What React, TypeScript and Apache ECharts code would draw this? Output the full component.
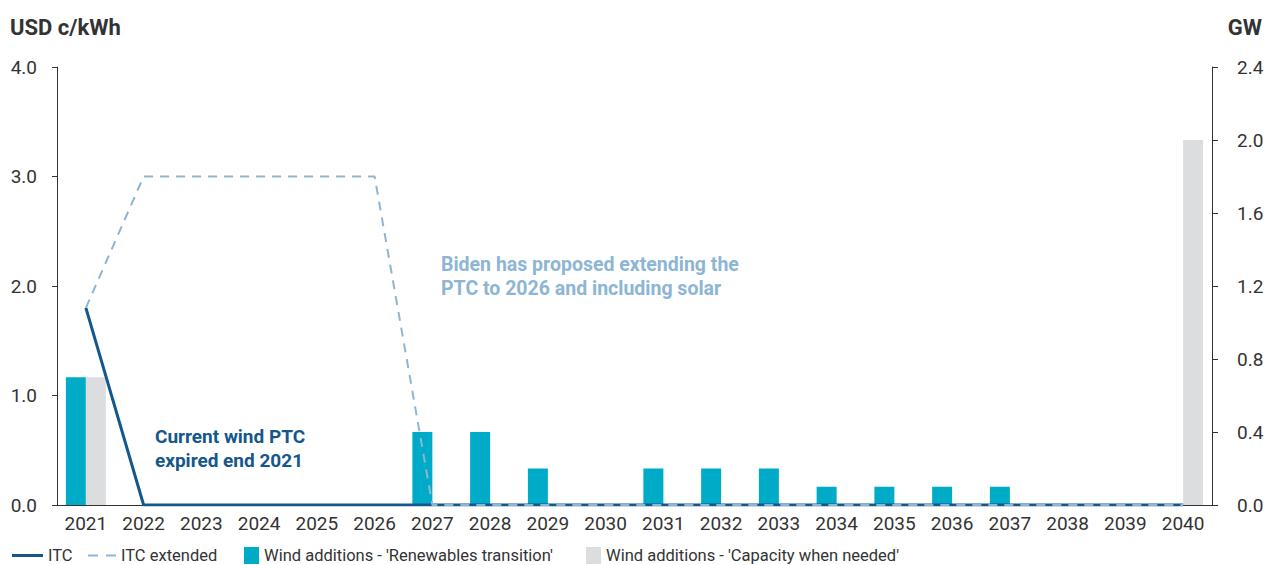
import React, { useEffect, useRef } from "react";
import * as echarts from "echarts";

const years = ["2021","2022","2023","2024","2025","2026","2027","2028","2029","2030","2031","2032","2033","2034","2035","2036","2037","2038","2039","2040"];
const itc = [1.8,0,0,0,0,0,0,0,0,0,0,0,0,0,0,0,0,0,0,0];
const itcExtended = [1.8,3.0,3.0,3.0,3.0,3.0,0,0,0,0,0,0,0,0,0,0,0,0,0,0];
const windRenewables = [0.7,0,0,0,0,0,0.4,0.4,0.2,0,0.2,0.2,0.2,0.1,0.1,0.1,0.1,0,0,0];
const windCapacity = [0.7,0,0,0,0,0,0,0,0,0,0,0,0,0,0,0,0,0,0,2.0];
const leftTicks = { min: 0, max: 4, interval: 1 };
const rightTicks = { min: 0, max: 2.4, interval: 0.4 };

const FONT = "Roboto, sans-serif";
const TXT = "#333333";
const C_ITC = "#14578c";
const C_EXT = "#8db5d4";
const C_TEAL = "#00abc8";
const C_GREY = "#dcdddf";

export default function App() {
  const ref = useRef<HTMLDivElement>(null);
  useEffect(() => {
    document.body.style.margin = "0";
    const chart = echarts.init(ref.current!, null, { renderer: "svg" });
    const nullZero = (arr: number[]) => arr.map((v) => (v === 0 ? null : v));
    const legendBase = {
      top: 547,
      padding: 0,
      textStyle: { color: TXT, fontSize: 16.5, fontFamily: FONT },
      itemGap: 0,
    };
    chart.setOption({
      animation: false,
      textStyle: { fontFamily: FONT },
      grid: { left: 57, right: 55, top: 67, bottom: 60, containLabel: false },
      title: [
        { text: "USD c/kWh", left: 10, top: 16, padding: 0, textStyle: { fontFamily: FONT, fontSize: 22, fontWeight: "bold", color: TXT } },
        { text: "GW", right: 5, top: 16, padding: 0, textStyle: { fontFamily: FONT, fontSize: 22, fontWeight: "bold", color: TXT } },
      ],
      legend: [
        { ...legendBase, left: 12, itemWidth: 31, itemHeight: 3, data: [{ name: "ITC", icon: "rect" }] },
        {
          ...legendBase,
          left: 88,
          itemWidth: 28,
          itemHeight: 2,
          data: [{ name: "ITC extended", icon: "path://M0,0h10v2h-10z M18,0h10v2h-10z" }],
        },
        { ...legendBase, left: 244, itemWidth: 15, itemHeight: 17, data: [{ name: "Wind additions - 'Renewables transition'", icon: "rect" }] },
        { ...legendBase, left: 586, itemWidth: 15, itemHeight: 17, data: [{ name: "Wind additions - 'Capacity when needed'", icon: "rect" }] },
      ],
      xAxis: {
        type: "category",
        data: years,
        axisLine: { show: true, lineStyle: { color: "#333", width: 1 } },
        axisTick: { show: false },
        axisLabel: { color: TXT, fontSize: 19, fontFamily: FONT, margin: 9 },
      },
      yAxis: [
        {
          type: "value",
          ...leftTicks,
          position: "left",
          axisLine: { show: true, lineStyle: { color: "#333", width: 1 } },
          axisTick: { show: true, length: 5, lineStyle: { color: "#333" } },
          splitLine: { show: false },
          axisLabel: { color: TXT, fontSize: 19, fontFamily: FONT, margin: 20, formatter: (v: number) => v.toFixed(1) },
        },
        {
          type: "value",
          ...rightTicks,
          position: "right",
          axisLine: { show: true, lineStyle: { color: "#333", width: 1 } },
          axisTick: { show: true, length: 6, lineStyle: { color: "#333" } },
          splitLine: { show: false },
          axisLabel: { color: TXT, fontSize: 19, fontFamily: FONT, margin: 25, formatter: (v: number) => v.toFixed(1) },
        },
      ],
      series: [
        {
          name: "Wind additions - 'Renewables transition'",
          type: "bar",
          yAxisIndex: 1,
          data: nullZero(windRenewables),
          barWidth: 20,
          barGap: "0%",
          itemStyle: { color: C_TEAL },
          z: 1,
        },
        {
          name: "Wind additions - 'Capacity when needed'",
          type: "bar",
          yAxisIndex: 1,
          data: nullZero(windCapacity),
          barWidth: 20,
          barGap: "0%",
          itemStyle: { color: C_GREY },
          z: 1,
        },
        {
          name: "ITC",
          type: "line",
          yAxisIndex: 0,
          data: itc,
          symbol: "none",
          lineStyle: { color: C_ITC, width: 3 },
          itemStyle: { color: C_ITC },
          z: 3,
        },
        {
          name: "ITC extended",
          type: "line",
          yAxisIndex: 0,
          data: itcExtended,
          symbol: "none",
          lineStyle: { color: C_EXT, width: 2, type: [9, 7] },
          itemStyle: { color: C_EXT },
          z: 4,
        },
      ],
      graphic: [
        {
          type: "text",
          left: 155,
          top: 424,
          style: {
            text: "Current wind PTC\nexpired end 2021",
            fill: C_ITC,
            font: `bold 19px ${FONT}`,
            lineHeight: 24,
          },
          z: 10,
        },
        {
          type: "text",
          left: 441,
          top: 252,
          style: {
            text: "Biden has proposed extending the\nPTC to 2026 and including solar",
            fill: C_EXT,
            font: `bold 19.5px ${FONT}`,
            lineHeight: 24,
          },
          z: 10,
        },
      ],
    });
    return () => chart.dispose();
  }, []);
  return <div ref={ref} style={{ width: 1267, height: 565 }} />;
}
